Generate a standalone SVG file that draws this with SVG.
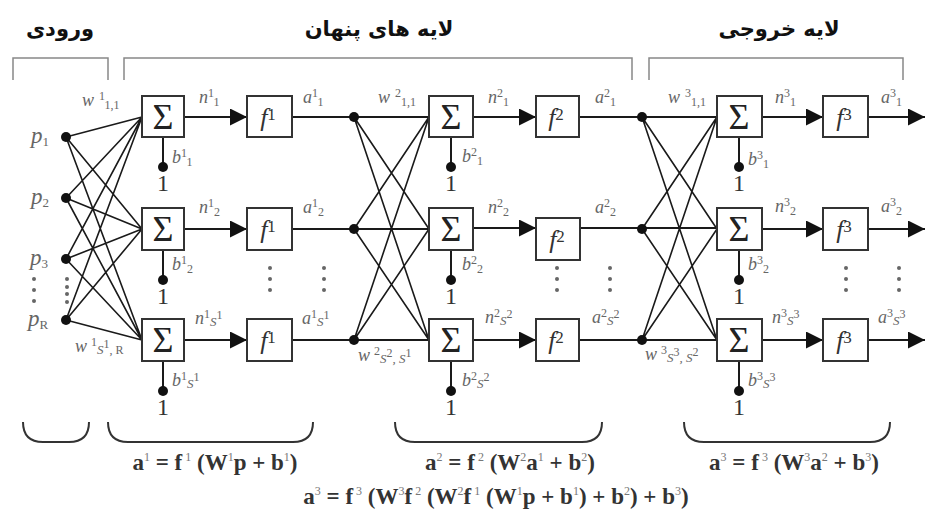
<svg xmlns="http://www.w3.org/2000/svg" width="925" height="513" viewBox="0 0 925 513">
<defs>
<marker id="arr" markerUnits="userSpaceOnUse" markerWidth="17" markerHeight="17" refX="17" refY="8.5" orient="auto">
<path d="M0,0 L17,8.5 L0,17 z" fill="#111"/>
</marker>
<style>
.ln{stroke:#1a1a1a;stroke-width:2;fill:none}
.w{stroke:#1a1a1a;stroke-width:1.6;fill:none}
.br{stroke:#888;stroke-width:1.5;fill:none}
.brc{stroke:#333;stroke-width:2;fill:none}
.box{fill:#fff;stroke:#333;stroke-width:2}
.dot{fill:#111}
.sr{font-family:'Liberation Serif','Times New Roman','DejaVu Serif',serif}
.sig{font-size:36px;fill:#222;text-anchor:middle}
.f{font-style:italic;font-size:26px;fill:#333;text-anchor:middle}
.fs{font-style:normal;font-size:17px}
.l{font-style:italic;font-size:18px;fill:#666}
.p{font-style:italic;font-size:23px;fill:#666}
.ps{font-size:13px;font-style:normal}
.s{font-size:12px;font-style:normal}
.si{font-size:13px}
.one{font-size:24px;fill:#333;text-anchor:middle}
.el{fill:#666}
.hd{font-family:'DejaVu Sans',sans-serif;font-weight:bold;font-size:21px;fill:#111;text-anchor:middle}
.eq{font-weight:bold;font-size:23px;fill:#333;text-anchor:middle}
.es{font-size:12px;font-weight:normal;fill:#777}
</style>
</defs>
<rect width="925" height="513" fill="#fff"/>

<g id="headers">
<text class="hd" x="60" y="36">ورودی</text>
<text class="hd" x="379" y="36">لایه های پنهان</text>
<text class="hd" x="779" y="36">لایه خروجی</text>
<path class="br" d="M13,80 V58 H108 V80"/>
<path class="br" d="M124,80 V58 H632 V80"/>
<path class="br" d="M649,80 V58 H903 V80"/>
</g>

<g id="connectors">
<path class="w" d="M66,137 L142,117 M66,137 L142,229 M66,137 L142,340
M66,198 L142,117 M66,198 L142,229 M66,198 L142,340
M66,259 L142,117 M66,259 L142,229 M66,259 L142,340
M66,320 L142,117 M66,320 L142,229 M66,320 L142,340"/>
<line class="ln" x1="184" y1="117" x2="247" y2="117" marker-end="url(#arr)"/>
<line class="ln" x1="184" y1="229" x2="247" y2="229" marker-end="url(#arr)"/>
<line class="ln" x1="184" y1="340" x2="247" y2="340" marker-end="url(#arr)"/>
<line class="ln" x1="473" y1="117" x2="536" y2="117" marker-end="url(#arr)"/>
<line class="ln" x1="473" y1="228" x2="536" y2="228" marker-end="url(#arr)"/>
<line class="ln" x1="473" y1="340" x2="536" y2="340" marker-end="url(#arr)"/>
<line class="ln" x1="762" y1="117" x2="823" y2="117" marker-end="url(#arr)"/>
<line class="ln" x1="762" y1="229" x2="823" y2="229" marker-end="url(#arr)"/>
<line class="ln" x1="762" y1="340" x2="823" y2="340" marker-end="url(#arr)"/>
<path class="ln" d="M292,117 H429 M292,229 H429 M292,340 H429"/>
<path class="ln" d="M579,117 H717 M580,228 H717 M579,340 H717"/>
<line class="ln" x1="868" y1="117" x2="925" y2="117" marker-end="url(#arr)"/>
<line class="ln" x1="868" y1="229" x2="925" y2="229" marker-end="url(#arr)"/>
<line class="ln" x1="868" y1="340" x2="925" y2="340" marker-end="url(#arr)"/>
<path class="w" d="M354,117 L429,229 M354,117 L429,340 M354,229 L429,117 M354,229 L429,340 M354,340 L429,117 M354,340 L429,229"/>
<path class="w" d="M642,117 L717,229 M642,117 L717,340 M642,229 L717,117 M642,229 L717,340 M642,340 L717,117 M642,340 L717,229"/>
<path class="ln" d="M163,137 V167 M163,250 V280 M163,361 V391
M451,137 V167 M451,250 V280 M451,361 V391
M739,137 V167 M739,250 V280 M739,361 V391"/>
</g>

<g id="inputs" class="sr">
<circle class="dot" cx="66" cy="137" r="5"/>
<circle class="dot" cx="66" cy="198" r="5"/>
<circle class="dot" cx="66" cy="259" r="5"/>
<circle class="dot" cx="66" cy="320" r="5"/>
<text class="p" x="31" y="143">p<tspan class="ps" dy="3">1</tspan></text>
<text class="p" x="31" y="204">p<tspan class="ps" dy="3">2</tspan></text>
<text class="p" x="30" y="265">p<tspan class="ps" dy="3">3</tspan></text>
<text class="p" x="28" y="326">p<tspan class="ps" font-style="italic" dy="3">R</tspan></text>
<g class="el">
<circle cx="34" cy="279" r="2"/><circle cx="34" cy="290" r="2"/><circle cx="34" cy="301" r="2"/>
<circle cx="67" cy="279" r="2"/><circle cx="67" cy="287" r="2"/><circle cx="67" cy="294" r="2"/><circle cx="67" cy="302" r="2"/>
</g>
</g>

<g id="layer1" class="sr">
<rect class="box" x="142" y="96" width="42" height="41"/>
<rect class="box" x="142" y="208" width="42" height="42"/>
<rect class="box" x="142" y="319" width="42" height="42"/>
<text class="sig sr" x="163" y="129">Σ</text>
<text class="sig sr" x="163" y="241">Σ</text>
<text class="sig sr" x="163" y="352">Σ</text>
<rect class="box" x="247" y="96" width="45" height="41"/>
<rect class="box" x="247" y="208" width="45" height="42"/>
<rect class="box" x="247" y="319" width="45" height="42"/>
<text class="f sr" x="268" y="126">f<tspan class="fs" dy="-6">1</tspan></text>
<text class="f sr" x="268" y="238">f<tspan class="fs" dy="-6">1</tspan></text>
<text class="f sr" x="268" y="349">f<tspan class="fs" dy="-6">1</tspan></text>
<circle class="dot" cx="163" cy="167" r="5"/>
<circle class="dot" cx="163" cy="280" r="5"/>
<circle class="dot" cx="163" cy="391" r="5"/>
<text class="one sr" x="163" y="191">1</text>
<text class="one sr" x="163" y="304">1</text>
<text class="one sr" x="163" y="415">1</text>
<text class="l sr" x="82" y="106">w<tspan class="s" dx="5" dy="-6">1</tspan><tspan class="s" dy="9">1,1</tspan></text>
<text class="l sr" x="75" y="352">w<tspan class="s" dx="4" dy="-6">1</tspan><tspan class="si" dy="8">S</tspan><tspan class="s" dy="-6">1</tspan><tspan class="s" dy="6">, R</tspan></text>
<text class="l sr" x="199" y="103">n<tspan class="s" dy="-6">1</tspan><tspan class="s" dy="9">1</tspan></text>
<text class="l sr" x="199" y="213">n<tspan class="s" dy="-6">1</tspan><tspan class="s" dy="9">2</tspan></text>
<text class="l sr" x="195" y="324">n<tspan class="s" dy="-6">1</tspan><tspan class="si" dy="8">S</tspan><tspan class="s" dy="-7">1</tspan></text>
<text class="l sr" x="303" y="103">a<tspan class="s" dy="-6">1</tspan><tspan class="s" dy="9">1</tspan></text>
<text class="l sr" x="303" y="213">a<tspan class="s" dy="-6">1</tspan><tspan class="s" dy="9">2</tspan></text>
<text class="l sr" x="302" y="324">a<tspan class="s" dy="-6">1</tspan><tspan class="si" dy="8">S</tspan><tspan class="s" dy="-7">1</tspan></text>
<text class="l sr" x="172" y="163">b<tspan class="s" dy="-6">1</tspan><tspan class="s" dy="9">1</tspan></text>
<text class="l sr" x="172" y="270">b<tspan class="s" dy="-6">1</tspan><tspan class="s" dy="9">2</tspan></text>
<text class="l sr" x="172" y="386">b<tspan class="s" dy="-6">1</tspan><tspan class="si" dy="8">S</tspan><tspan class="s" dy="-7">1</tspan></text>
<g class="el">
<circle cx="270" cy="268" r="2"/><circle cx="270" cy="279" r="2"/><circle cx="270" cy="290" r="2"/>
<circle cx="324" cy="268" r="2"/><circle cx="324" cy="279" r="2"/><circle cx="324" cy="290" r="2"/>
</g>
</g>

<g id="layer2" class="sr">
<circle class="dot" cx="354" cy="117" r="5"/>
<circle class="dot" cx="354" cy="229" r="5"/>
<circle class="dot" cx="354" cy="340" r="5"/>
<rect class="box" x="429" y="96" width="44" height="41"/>
<rect class="box" x="429" y="208" width="44" height="42"/>
<rect class="box" x="429" y="319" width="44" height="42"/>
<text class="sig sr" x="451" y="129">Σ</text>
<text class="sig sr" x="451" y="241">Σ</text>
<text class="sig sr" x="451" y="352">Σ</text>
<rect class="box" x="536" y="96" width="43" height="41"/>
<rect class="box" x="536" y="218" width="44" height="42"/>
<rect class="box" x="536" y="319" width="43" height="42"/>
<text class="f sr" x="556" y="126">f<tspan class="fs" dy="-6">2</tspan></text>
<text class="f sr" x="557" y="248">f<tspan class="fs" dy="-6">2</tspan></text>
<text class="f sr" x="556" y="349">f<tspan class="fs" dy="-6">2</tspan></text>
<circle class="dot" cx="451" cy="167" r="5"/>
<circle class="dot" cx="451" cy="280" r="5"/>
<circle class="dot" cx="451" cy="391" r="5"/>
<text class="one sr" x="451" y="191">1</text>
<text class="one sr" x="451" y="304">1</text>
<text class="one sr" x="451" y="415">1</text>
<text class="l sr" x="378" y="103">w<tspan class="s" dx="5" dy="-6">2</tspan><tspan class="s" dy="9">1,1</tspan></text>
<text class="l sr" x="358" y="361">w<tspan class="s" dx="4" dy="-6">2</tspan><tspan class="si" dy="8">S</tspan><tspan class="s" dy="-6">2</tspan><tspan class="si" dy="6">, S</tspan><tspan class="s" dy="-6">1</tspan></text>
<text class="l sr" x="488" y="103">n<tspan class="s" dy="-6">2</tspan><tspan class="s" dy="9">1</tspan></text>
<text class="l sr" x="488" y="213">n<tspan class="s" dy="-6">2</tspan><tspan class="s" dy="9">2</tspan></text>
<text class="l sr" x="485" y="323">n<tspan class="s" dy="-6">2</tspan><tspan class="si" dy="8">S</tspan><tspan class="s" dy="-7">2</tspan></text>
<text class="l sr" x="595" y="103">a<tspan class="s" dy="-6">2</tspan><tspan class="s" dy="9">1</tspan></text>
<text class="l sr" x="595" y="213">a<tspan class="s" dy="-6">2</tspan><tspan class="s" dy="9">2</tspan></text>
<text class="l sr" x="592" y="323">a<tspan class="s" dy="-6">2</tspan><tspan class="si" dy="8">S</tspan><tspan class="s" dy="-7">2</tspan></text>
<text class="l sr" x="462" y="162">b<tspan class="s" dy="-6">2</tspan><tspan class="s" dy="9">1</tspan></text>
<text class="l sr" x="462" y="270">b<tspan class="s" dy="-6">2</tspan><tspan class="s" dy="9">2</tspan></text>
<text class="l sr" x="462" y="386">b<tspan class="s" dy="-6">2</tspan><tspan class="si" dy="8">S</tspan><tspan class="s" dy="-7">2</tspan></text>
<g class="el">
<circle cx="557" cy="268" r="2"/><circle cx="557" cy="279" r="2"/><circle cx="557" cy="290" r="2"/>
<circle cx="610" cy="268" r="2"/><circle cx="610" cy="279" r="2"/><circle cx="610" cy="290" r="2"/>
</g>
</g>

<g id="layer3" class="sr">
<circle class="dot" cx="642" cy="117" r="5"/>
<circle class="dot" cx="642" cy="229" r="5"/>
<circle class="dot" cx="642" cy="340" r="5"/>
<rect class="box" x="717" y="96" width="45" height="41"/>
<rect class="box" x="717" y="208" width="45" height="42"/>
<rect class="box" x="717" y="319" width="45" height="42"/>
<text class="sig sr" x="739" y="129">Σ</text>
<text class="sig sr" x="739" y="241">Σ</text>
<text class="sig sr" x="739" y="352">Σ</text>
<rect class="box" x="823" y="96" width="45" height="41"/>
<rect class="box" x="823" y="208" width="45" height="42"/>
<rect class="box" x="823" y="319" width="45" height="42"/>
<text class="f sr" x="844" y="126">f<tspan class="fs" dy="-6">3</tspan></text>
<text class="f sr" x="844" y="238">f<tspan class="fs" dy="-6">3</tspan></text>
<text class="f sr" x="844" y="349">f<tspan class="fs" dy="-6">3</tspan></text>
<circle class="dot" cx="739" cy="167" r="5"/>
<circle class="dot" cx="739" cy="280" r="5"/>
<circle class="dot" cx="739" cy="391" r="5"/>
<text class="one sr" x="739" y="191">1</text>
<text class="one sr" x="739" y="304">1</text>
<text class="one sr" x="739" y="415">1</text>
<text class="l sr" x="668" y="103">w<tspan class="s" dx="5" dy="-6">3</tspan><tspan class="s" dy="9">1,1</tspan></text>
<text class="l sr" x="645" y="360">w<tspan class="s" dx="4" dy="-6">3</tspan><tspan class="si" dy="8">S</tspan><tspan class="s" dy="-6">3</tspan><tspan class="si" dy="6">, S</tspan><tspan class="s" dy="-6">2</tspan></text>
<text class="l sr" x="775" y="103">n<tspan class="s" dy="-6">3</tspan><tspan class="s" dy="9">1</tspan></text>
<text class="l sr" x="775" y="212">n<tspan class="s" dy="-6">3</tspan><tspan class="s" dy="9">2</tspan></text>
<text class="l sr" x="772" y="323">n<tspan class="s" dy="-6">3</tspan><tspan class="si" dy="8">S</tspan><tspan class="s" dy="-7">3</tspan></text>
<text class="l sr" x="881" y="103">a<tspan class="s" dy="-6">3</tspan><tspan class="s" dy="9">1</tspan></text>
<text class="l sr" x="881" y="212">a<tspan class="s" dy="-6">3</tspan><tspan class="s" dy="9">2</tspan></text>
<text class="l sr" x="878" y="323">a<tspan class="s" dy="-6">3</tspan><tspan class="si" dy="8">S</tspan><tspan class="s" dy="-7">3</tspan></text>
<text class="l sr" x="748" y="165">b<tspan class="s" dy="-6">3</tspan><tspan class="s" dy="9">1</tspan></text>
<text class="l sr" x="748" y="270">b<tspan class="s" dy="-6">3</tspan><tspan class="s" dy="9">2</tspan></text>
<text class="l sr" x="748" y="386">b<tspan class="s" dy="-6">3</tspan><tspan class="si" dy="8">S</tspan><tspan class="s" dy="-7">3</tspan></text>
<g class="el">
<circle cx="846" cy="268" r="2"/><circle cx="846" cy="279" r="2"/><circle cx="846" cy="290" r="2"/>
<circle cx="899" cy="268" r="2"/><circle cx="899" cy="279" r="2"/><circle cx="899" cy="290" r="2"/>
</g>
</g>

<g id="equations">
<path class="brc" d="M23,422 Q23,442 43,442 H69 Q89,442 89,422"/>
<path class="brc" d="M108,422 Q108,442 128,442 H293 Q313,442 313,422"/>
<path class="brc" d="M395,422 Q395,442 415,442 H582 Q602,442 602,422"/>
<path class="brc" d="M684,422 Q684,442 704,442 H870 Q890,442 890,422"/>
<text class="eq sr" x="215" y="470">a<tspan class="es" dy="-9">1</tspan><tspan dy="9"> = f</tspan><tspan class="es" dy="-9"> 1</tspan><tspan dy="9"> (W</tspan><tspan class="es" dy="-9">1</tspan><tspan dy="9">p + b</tspan><tspan class="es" dy="-9">1</tspan><tspan dy="9">)</tspan></text>
<text class="eq sr" x="510" y="470">a<tspan class="es" dy="-9">2</tspan><tspan dy="9"> = f</tspan><tspan class="es" dy="-9"> 2</tspan><tspan dy="9"> (W</tspan><tspan class="es" dy="-9">2</tspan><tspan dy="9">a</tspan><tspan class="es" dy="-9">1</tspan><tspan dy="9"> + b</tspan><tspan class="es" dy="-9">2</tspan><tspan dy="9">)</tspan></text>
<text class="eq sr" x="794" y="470">a<tspan class="es" dy="-9">3</tspan><tspan dy="9"> = f</tspan><tspan class="es" dy="-9"> 3</tspan><tspan dy="9"> (W</tspan><tspan class="es" dy="-9">3</tspan><tspan dy="9">a</tspan><tspan class="es" dy="-9">2</tspan><tspan dy="9"> + b</tspan><tspan class="es" dy="-9">3</tspan><tspan dy="9">)</tspan></text>
<text class="eq sr" x="496" y="504">a<tspan class="es" dy="-9">3</tspan><tspan dy="9"> = f</tspan><tspan class="es" dy="-9"> 3</tspan><tspan dy="9"> (W</tspan><tspan class="es" dy="-9">3</tspan><tspan dy="9">f</tspan><tspan class="es" dy="-9"> 2</tspan><tspan dy="9"> (W</tspan><tspan class="es" dy="-9">2</tspan><tspan dy="9">f</tspan><tspan class="es" dy="-9"> 1</tspan><tspan dy="9"> (W</tspan><tspan class="es" dy="-9">1</tspan><tspan dy="9">p + b</tspan><tspan class="es" dy="-9">1</tspan><tspan dy="9">) + b</tspan><tspan class="es" dy="-9">2</tspan><tspan dy="9">) + b</tspan><tspan class="es" dy="-9">3</tspan><tspan dy="9">)</tspan></text>
</g>
</svg>
